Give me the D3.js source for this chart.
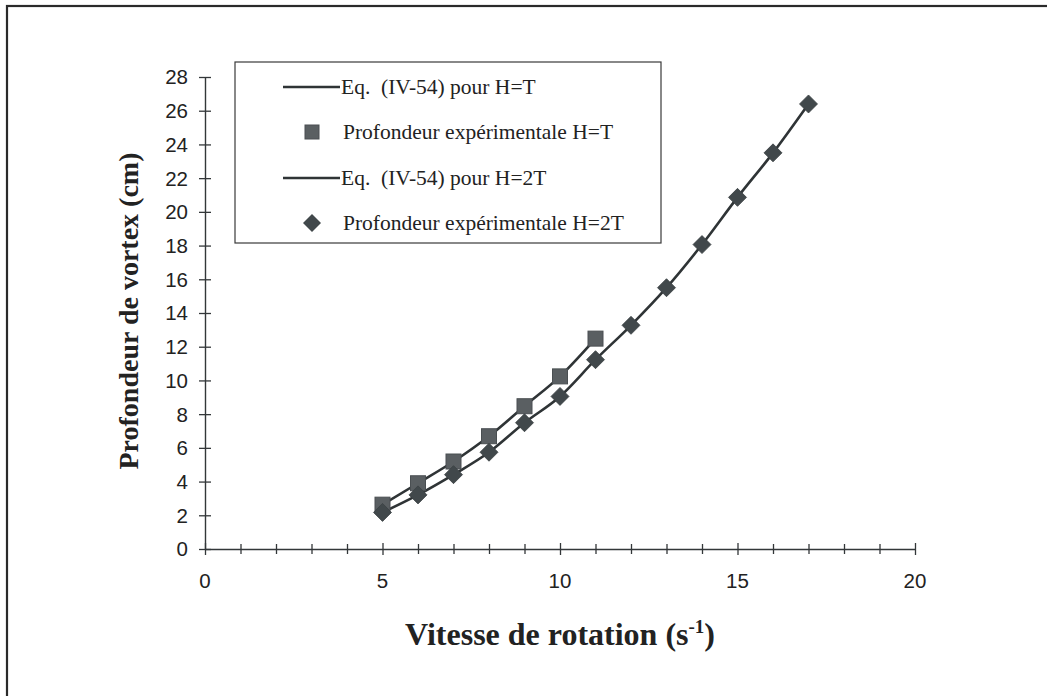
<!DOCTYPE html>
<html>
<head>
<meta charset="utf-8">
<script src="https://cdn.jsdelivr.net/npm/d3@7"></script>
<style>
  html, body { margin: 0; padding: 0; background: #fff; }
  svg { display: block; }
  text { white-space: pre; }
</style>
</head>
<body>
<svg id="chart" width="1047" height="696"></svg>
<script>
// Rotation speed (s^-1) and vortex depth (cm)
const speedHT = [5, 6, 7, 8, 9, 10, 11];
const depthHT = [2.63, 3.90, 5.19, 6.69, 8.47, 10.24, 12.48];
const speedH2T = [5, 6, 7, 8, 9, 10, 11, 12, 13, 14, 15, 16, 17];
const depthH2T = [2.17, 3.21, 4.41, 5.74, 7.49, 9.05, 11.23, 13.27, 15.5, 18.06, 20.86, 23.5, 26.4];

const xTicks = d3.range(0, 21, 1);
const xLabels = [0, 5, 10, 15, 20];
const yTicks = d3.range(0, 29, 2);

const legendItems = [
  { label: "Eq.  (IV-54) pour H=T", kind: "line" },
  { label: "Profondeur expérimentale H=T", kind: "square" },
  { label: "Eq.  (IV-54) pour H=2T", kind: "line" },
  { label: "Profondeur expérimentale H=2T", kind: "diamond" }
];

const svg = d3.select("#chart");
const ink = "#333739";
const lineColor = "#2f3436";
const squareFill = "#5a5f62";
const diamondFill = "#41484b";

// outer frame
svg.append("rect")
  .attr("x", 7).attr("y", 6)
  .attr("width", 1060).attr("height", 720)
  .attr("fill", "none").attr("stroke", "#2a2a2a").attr("stroke-width", 2.2);

const x = d3.scaleLinear().domain([0, 20]).range([205, 915]);
const y = d3.scaleLinear().domain([0, 28]).range([549, 77]);

// x axis: ticks cross the axis line
const gx = svg.append("g").attr("transform", `translate(0,${y(0)})`)
  .call(d3.axisBottom(x).tickValues(xTicks).tickFormat(() => "").tickSizeOuter(0));
gx.select(".domain").attr("stroke", ink).attr("stroke-width", 1.4);
gx.selectAll(".tick line")
  .attr("y1", d => xLabels.includes(d) ? -6 : -5)
  .attr("y2", d => xLabels.includes(d) ? 6 : 5)
  .attr("stroke", ink).attr("stroke-width", 1.3);

svg.append("g").selectAll("text").data(xLabels).join("text")
  .attr("x", d => x(d)).attr("y", y(0) + 39)
  .attr("text-anchor", "middle")
  .attr("font-family", "Liberation Sans, Arial, sans-serif")
  .attr("font-size", 20.5).attr("fill", "#222")
  .text(d => d);

// y axis
const gy = svg.append("g").attr("transform", `translate(${x(0)},0)`)
  .call(d3.axisLeft(y).tickValues(yTicks).tickFormat(() => "").tickSizeOuter(0));
gy.select(".domain").attr("stroke", ink).attr("stroke-width", 1.4);
gy.selectAll(".tick line")
  .attr("x1", -6).attr("x2", 6)
  .attr("stroke", ink).attr("stroke-width", 1.3);

svg.append("g").selectAll("text").data(yTicks).join("text")
  .attr("x", x(0) - 17).attr("y", d => y(d))
  .attr("dy", "0.36em")
  .attr("text-anchor", "end")
  .attr("font-family", "Liberation Sans, Arial, sans-serif")
  .attr("font-size", 20.5).attr("fill", "#222")
  .text(d => d);

// axis titles
const xTitle = svg.append("text")
  .attr("x", 560).attr("y", 645)
  .attr("text-anchor", "middle")
  .attr("font-family", "Liberation Serif, Times New Roman, serif")
  .attr("font-weight", "bold").attr("font-size", 32).attr("fill", "#222");
xTitle.append("tspan").text("Vitesse de rotation (s");
xTitle.append("tspan").attr("dy", -12).attr("font-size", 19).text("-1");
xTitle.append("tspan").attr("dy", 12).text(")");

svg.append("text")
  .attr("transform", "translate(138,311) rotate(-90)")
  .attr("text-anchor", "middle")
  .attr("font-family", "Liberation Serif, Times New Roman, serif")
  .attr("font-weight", "bold").attr("font-size", 28).attr("fill", "#222")
  .text("Profondeur de vortex (cm)");

// curves
const lineGen = d3.line().x(d => x(d[0])).y(d => y(d[1])).curve(d3.curveMonotoneX);
const ptsHT = speedHT.map((s, i) => [s, depthHT[i]]);
const ptsH2T = speedH2T.map((s, i) => [s, depthH2T[i]]);

[ptsHT, ptsH2T].forEach(pts => {
  svg.append("path").datum(pts)
    .attr("d", lineGen)
    .attr("fill", "none").attr("stroke", lineColor).attr("stroke-width", 2.6);
});

// markers
const sq = 15;
svg.append("g").selectAll("rect").data(ptsHT).join("rect")
  .attr("x", d => x(d[0]) - sq / 2).attr("y", d => y(d[1]) - sq / 2)
  .attr("width", sq).attr("height", sq)
  .attr("fill", squareFill).attr("stroke", "#4a4f52").attr("stroke-width", 1);

const dm = 9;
const diamondPath = `M0,${-dm}L${dm},0L0,${dm}L${-dm},0Z`;
svg.append("g").selectAll("path").data(ptsH2T).join("path")
  .attr("transform", d => `translate(${x(d[0])},${y(d[1])})`)
  .attr("d", diamondPath)
  .attr("fill", diamondFill).attr("stroke", "#3a4043").attr("stroke-width", 0.8);

// legend
const legend = svg.append("g");
legend.append("rect")
  .attr("x", 235).attr("y", 62).attr("width", 426).attr("height", 181)
  .attr("fill", "#fff").attr("stroke", "#3a3a3a").attr("stroke-width", 1.2);

const rowY = [87, 132, 178, 223];
legendItems.forEach((item, i) => {
  const ry = rowY[i];
  if (item.kind === "line") {
    legend.append("line")
      .attr("x1", 283).attr("x2", 340).attr("y1", ry).attr("y2", ry)
      .attr("stroke", lineColor).attr("stroke-width", 2.6);
  } else if (item.kind === "square") {
    legend.append("rect")
      .attr("x", 312 - 7).attr("y", ry - 7).attr("width", 14).attr("height", 14)
      .attr("fill", squareFill).attr("stroke", "#4a4f52").attr("stroke-width", 1);
  } else {
    legend.append("path")
      .attr("transform", `translate(312,${ry})`)
      .attr("d", diamondPath)
      .attr("fill", diamondFill);
  }
  legend.append("text")
    .attr("x", item.kind === "line" ? 341 : 343).attr("y", ry)
    .attr("dy", "0.33em")
    .attr("font-family", "Liberation Serif, Times New Roman, serif")
    .attr("font-size", 21.5).attr("fill", "#222")
    .text(item.label);
});
</script>
</body>
</html>
